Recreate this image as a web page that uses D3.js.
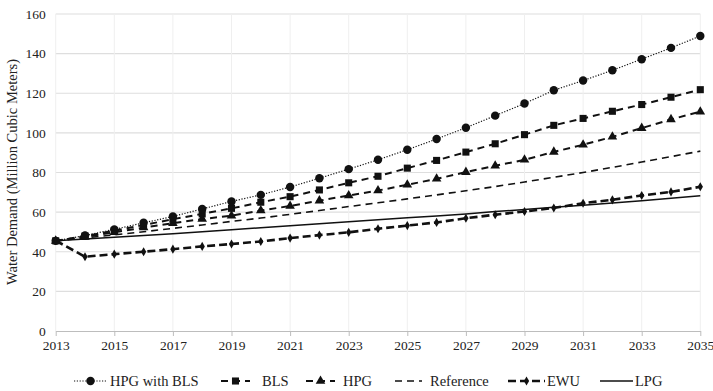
<!DOCTYPE html>
<html><head><meta charset="utf-8">
<script src="https://cdn.jsdelivr.net/npm/d3@7"></script>
<style>
body{margin:0;background:#fff}
text{font-family:'Liberation Serif'}
</style></head>
<body><svg id="c" width="713" height="391"></svg>
<script>
const years = d3.range(2013, 2036);
const xTicks = [2013,2015,2017,2019,2021,2023,2025,2027,2029,2031,2033,2035];
const yTicks = [0,20,40,60,80,100,120,140,160];
const hpgWithBls = [45.5,48.2,51.3,54.6,57.8,61.6,65.4,68.7,72.7,77.1,81.7,86.4,91.5,96.9,102.6,108.7,114.8,121.5,126.4,131.6,137.2,142.9,148.9];
const bls = [45.5,47.9,50.6,53.5,56.4,59.1,61.9,65.0,67.8,71.2,74.8,78.1,82.2,86.1,90.3,94.5,99.1,103.8,107.3,110.9,114.3,118.0,121.8];
const hpg = [45.5,47.5,49.8,52.2,54.4,56.5,58.2,60.8,63.1,65.8,68.4,70.9,73.8,76.8,80.2,83.4,86.4,90.4,94.0,98.0,102.4,106.8,110.7];
const reference = [45.5,47.0,48.5,50.1,51.8,53.5,55.3,57.0,58.9,60.8,62.8,64.7,66.7,68.7,70.8,72.9,75.2,77.6,80.0,82.6,85.3,88.0,90.8];
const ewu = [45.6,37.5,38.8,40.0,41.3,42.7,43.9,45.2,46.9,48.4,49.8,51.6,53.2,54.8,56.9,58.7,60.3,62.1,64.5,66.2,68.4,70.2,72.8];
const lpg = [45.5,46.4,47.3,48.2,49.1,50.1,51.1,52.1,53.1,54.1,55.1,56.1,57.1,58.1,59.1,60.3,61.3,62.4,63.5,64.6,65.8,67.0,68.3];
const seriesNames = ["HPG with BLS","BLS","HPG","Reference","EWU","LPG"];

const series = [
  {name:seriesNames[0], vals:hpgWithBls, dash:"1.2,1.6", w:1.2, sym:d3.symbolCircle, size:56},
  {name:seriesNames[1], vals:bls, dash:"7,5", w:2, sym:d3.symbolSquare, size:50},
  {name:seriesNames[2], vals:hpg, dash:"7,5", w:2, sym:d3.symbolTriangle, size:40},
  {name:seriesNames[3], vals:reference, dash:"7,5", w:1.6, sym:null},
  {name:seriesNames[4], vals:ewu, dash:"8,4", w:2.6, sym:d3.symbolDiamond, size:24},
  {name:seriesNames[5], vals:lpg, dash:null, w:1.5, sym:null}
];

const FONT = "Liberation Serif";
const svg = d3.select("#c");
const x = d3.scaleLinear().domain([2013,2035]).range([55.7,700.3]);
const y = d3.scaleLinear().domain([0,160]).range([331,14]);

// gridlines
svg.append("g").selectAll("line").data(yTicks.slice(1)).join("line")
  .attr("x1",x(2013)).attr("x2",x(2035)).attr("y1",d=>y(d)).attr("y2",d=>y(d))
  .attr("stroke","#dedede").attr("stroke-width",1.2);
svg.append("g").selectAll("line").data(xTicks).join("line")
  .attr("x1",d=>x(d)).attr("x2",d=>x(d)).attr("y1",y(0)).attr("y2",y(160))
  .attr("stroke","#efefef").attr("stroke-width",1);

// x axis
const xa = svg.append("g").attr("transform",`translate(0,${y(0)})`)
  .call(d3.axisBottom(x).tickValues(xTicks).tickFormat(d3.format("d")).tickSize(5).tickSizeOuter(0).tickPadding(4));
xa.attr("font-family",FONT);
xa.select(".domain").attr("stroke","#bdbdbd");
xa.selectAll(".tick line").attr("stroke","#bdbdbd");
xa.selectAll("text").attr("font-size",13.5).attr("fill","#222").style("font-family",FONT);

// y axis
const ya = svg.append("g").attr("transform",`translate(${x(2013)},0)`)
  .call(d3.axisLeft(y).tickValues(yTicks).tickSize(0).tickPadding(10));
ya.attr("font-family",FONT);
ya.select(".domain").remove();
ya.selectAll("text").attr("font-size",13.5).attr("fill","#222").style("font-family",FONT);

svg.append("text").attr("transform","translate(17,172) rotate(-90)")
  .attr("text-anchor","middle").attr("font-size",14.5).attr("fill","#222")
  .style("font-family",FONT)
  .text("Water Demand (Million Cubic Meters)");

const line = d3.line().x((d,i)=>x(years[i])).y(d=>y(d));
const draw = [series[5],series[3],series[2],series[1],series[4],series[0]];
draw.forEach(s=>{
  svg.append("path").attr("d",line(s.vals)).attr("fill","none")
    .attr("stroke","#111").attr("stroke-width",s.w)
    .attr("stroke-dasharray",s.dash);
  if(s.sym){
    svg.append("g").selectAll("path").data(s.vals).join("path")
      .attr("d",d3.symbol().type(s.sym).size(s.size))
      .attr("transform",(d,i)=>`translate(${x(years[i])},${y(d)})`)
      .attr("fill","#111");
  }
});

// legend
const legPos = [
  {x1:74,x2:107,tx:110},
  {x1:221,x2:250,tx:262},
  {x1:306,x2:335,tx:343},
  {x1:395,x2:422,tx:430},
  {x1:508,x2:545,tx:547},
  {x1:600,x2:633,tx:635}
];
const ly = 381;
series.forEach((s,i)=>{
  const p = legPos[i];
  const g = svg.append("g");
  g.append("line").attr("x1",p.x1).attr("x2",p.x2).attr("y1",ly).attr("y2",ly)
    .attr("stroke","#111").attr("stroke-width",s.w).attr("stroke-dasharray",s.dash);
  if(s.sym){
    g.append("path").attr("d",d3.symbol().type(s.sym).size(s.size))
      .attr("transform",`translate(${(p.x1+p.x2)/2},${ly})`).attr("fill","#111");
  }
  g.append("text").attr("x",p.tx).attr("y",ly).attr("dy","0.35em")
    .attr("font-size",14.5).attr("fill","#222").style("font-family",FONT).text(s.name);
});
</script></body></html>
